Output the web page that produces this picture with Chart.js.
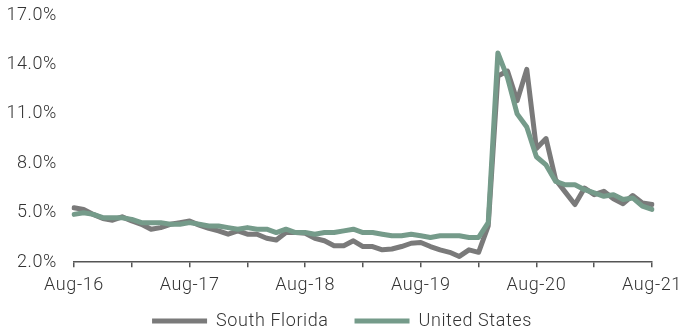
<!DOCTYPE html>
<html>
<head>
<meta charset="utf-8">
<script src="https://cdn.jsdelivr.net/npm/chart.js@4/dist/chart.umd.min.js"></script>
<style>
  html, body { margin: 0; padding: 0; background: #ffffff; }
  #wrap { width: 682px; height: 331px; position: relative; }
</style>
</head>
<body>
<div id="wrap"><canvas id="c"></canvas></div>
<script>
const months = [
  'Aug-16','Sep-16','Oct-16','Nov-16','Dec-16',
  'Jan-17','Feb-17','Mar-17','Apr-17','May-17','Jun-17','Jul-17','Aug-17','Sep-17','Oct-17','Nov-17','Dec-17',
  'Jan-18','Feb-18','Mar-18','Apr-18','May-18','Jun-18','Jul-18','Aug-18','Sep-18','Oct-18','Nov-18','Dec-18',
  'Jan-19','Feb-19','Mar-19','Apr-19','May-19','Jun-19','Jul-19','Aug-19','Sep-19','Oct-19','Nov-19','Dec-19',
  'Jan-20','Feb-20','Mar-20','Apr-20','May-20','Jun-20','Jul-20','Aug-20','Sep-20','Oct-20','Nov-20','Dec-20',
  'Jan-21','Feb-21','Mar-21','Apr-21','May-21','Jun-21','Jul-21','Aug-21'
];

const southFlorida = [
  5.3, 5.2, 4.9, 4.65, 4.55,
  4.75, 4.5, 4.3, 4.0, 4.1, 4.3, 4.4, 4.5, 4.25, 4.05, 3.9, 3.7,
  3.9, 3.7, 3.7, 3.45, 3.35, 3.8, 3.8, 3.75, 3.45, 3.3, 3.0, 3.0,
  3.3, 2.95, 2.95, 2.75, 2.8, 2.95, 3.15, 3.2, 2.95, 2.75, 2.6, 2.35,
  2.75, 2.6, 4.2, 13.3, 13.6, 11.8, 13.7, 8.9, 9.5, 7.0, 6.25, 5.5,
  6.5, 6.1, 6.3, 5.85, 5.55, 6.05, 5.6, 5.5
];

const unitedStates = [
  4.9, 5.0, 4.9, 4.7, 4.7,
  4.7, 4.6, 4.4, 4.4, 4.4, 4.3, 4.3, 4.4, 4.3, 4.2, 4.2, 4.1,
  4.0, 4.1, 4.0, 4.0, 3.8, 4.0, 3.8, 3.8, 3.7, 3.8, 3.8, 3.9,
  4.0, 3.8, 3.8, 3.7, 3.6, 3.6, 3.7, 3.6, 3.5, 3.6, 3.6, 3.6,
  3.5, 3.5, 4.4, 14.7, 13.2, 11.0, 10.2, 8.4, 7.9, 6.9, 6.7, 6.7,
  6.4, 6.2, 6.0, 6.1, 5.8, 5.9, 5.4, 5.2
];

const seriesNames = ['South Florida', 'United States'];
const yTicks = { min: 2, max: 17, step: 3 };

const TEXT = '#333333';
const FONT = { family: 'Roboto, "Liberation Sans", sans-serif', size: 18, weight: '300' };
const LS = '0.6px';

const letterSpacingPlugin = {
  id: 'letterSpacing',
  beforeInit(chart) { chart.ctx.letterSpacing = LS; },
  beforeUpdate(chart) { chart.ctx.letterSpacing = LS; },
  beforeLayout(chart) { chart.ctx.letterSpacing = LS; },
  beforeDraw(chart) { chart.ctx.letterSpacing = LS; }
};

new Chart(document.getElementById('c'), {
  type: 'line',
  data: {
    labels: months,
    datasets: [
      {
        label: seriesNames[0],
        data: southFlorida,
        borderColor: '#7a7a7a',
        backgroundColor: '#7a7a7a',
        borderWidth: 5,
        borderCapStyle: 'round',
        borderJoinStyle: 'round',
        pointRadius: 0,
        tension: 0,
        order: 2
      },
      {
        label: seriesNames[1],
        data: unitedStates,
        borderColor: '#759b8a',
        backgroundColor: '#759b8a',
        borderWidth: 5,
        borderCapStyle: 'round',
        borderJoinStyle: 'round',
        pointRadius: 0,
        tension: 0,
        order: 1
      }
    ]
  },
  plugins: [letterSpacingPlugin],
  options: {
    responsive: true,
    maintainAspectRatio: false,
    animation: false,
    layout: { padding: { left: 2, right: 0, top: 0, bottom: -9 } },
    plugins: {
      tooltip: { enabled: false },
      legend: {
        position: 'bottom',
        labels: {
          color: TEXT,
          font: FONT,
          usePointStyle: true,
          pointStyle: 'line',
          pointStyleWidth: 55,
          boxHeight: 6,
          padding: 1,
          sort: (a, b) => a.datasetIndex - b.datasetIndex,
          generateLabels: (chart) => {
            const items = Chart.defaults.plugins.legend.labels.generateLabels(chart);
            items.sort((a, b) => a.datasetIndex - b.datasetIndex);
            items.forEach((it, i) => { if (i < items.length - 1) it.text = it.text + '     '; });
            return items;
          }
        }
      }
    },
    scales: {
      x: {
        offset: false,
        afterFit: (scale) => { scale.paddingRight = 30; scale.paddingLeft = 0; },
        grid: {
          display: true,
          drawOnChartArea: false,
          drawTicks: true,
          tickLength: 5,
          color: (ctx) => (ctx.index % 6 === 0 ? '#555555' : 'rgba(0,0,0,0)'),
          lineWidth: 1.5
        },
        border: { display: true, color: '#555555', width: 1.5 },
        title: { display: true, text: '', font: { size: 1 }, padding: { top: 3, bottom: 4 } },
        ticks: {
          autoSkip: false,
          maxRotation: 0,
          minRotation: 0,
          color: TEXT,
          font: FONT,
          padding: 7,
          callback: function (v, i) { return i % 12 === 0 ? months[i] : ''; }
        }
      },
      y: {
        min: yTicks.min,
        max: yTicks.max,
        grid: { display: false, drawTicks: false },
        border: { display: false },
        afterFit: (scale) => { scale.width = 72; scale.paddingTop = 15; scale.paddingBottom = 0; },
        ticks: {
          stepSize: yTicks.step,
          color: TEXT,
          font: FONT,
          padding: 17,
          callback: (v) => v.toFixed(1) + '%'
        }
      }
    }
  }
});
</script>
</body>
</html>
